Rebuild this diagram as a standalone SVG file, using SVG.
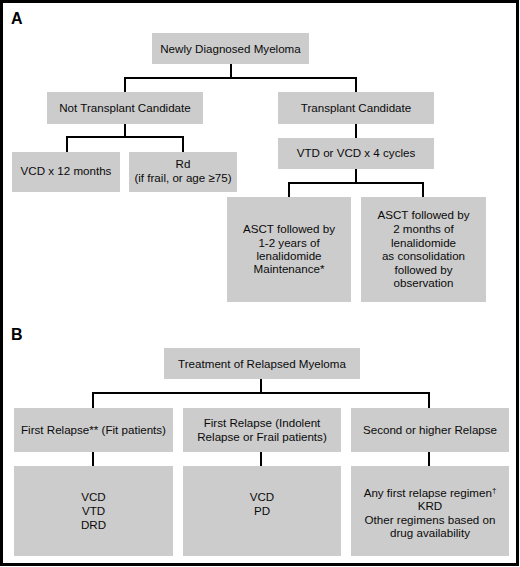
<svg xmlns="http://www.w3.org/2000/svg" width="520" height="567" viewBox="0 0 520 567">
<style>
.box{fill:#cccccc}
.t{font-family:"Liberation Sans",Arial,sans-serif;font-size:11.6px;fill:#0a0a0a;text-anchor:middle}
.lab{font-family:"Liberation Sans",Arial,sans-serif;font-size:16px;font-weight:bold;fill:#000}
.c{fill:none;stroke:#000;stroke-width:2}
</style>
<rect x="0" y="0" width="520" height="567" fill="#fff"/>
<rect x="1.5" y="1.5" width="516" height="563" fill="none" stroke="#000" stroke-width="3"/>
<text class="lab" x="11" y="24">A</text>
<text class="lab" x="11" y="340">B</text>
<g id="connectors">
<path class="c" d="M231,64V78M125,92V78H356V92"/>
<path class="c" d="M125,124V137M67,152V137H183V152"/>
<path class="c" d="M356,124V138"/>
<path class="c" d="M356,169V183M289,197V183H423V197"/>
<path class="c" d="M261,379V393M93,408V393H429V408"/>
<path class="c" d="M93,452V466M261,452V466M429,452V466"/>
</g>
<g id="n1"><rect class="box" x="152" y="33" width="157" height="31"/><text class="t" x="230.5" y="53">Newly Diagnosed Myeloma</text></g>
<g id="n2"><rect class="box" x="47" y="92" width="156" height="32"/><text class="t" x="125" y="112">Not Transplant Candidate</text></g>
<g id="n3"><rect class="box" x="278" y="92" width="156" height="32"/><text class="t" x="356" y="112">Transplant Candidate</text></g>
<g id="n4"><rect class="box" x="12" y="152" width="108" height="40"/><text class="t" x="66" y="175">VCD x 12 months</text></g>
<g id="n5"><rect class="box" x="129" y="152" width="108" height="40"/><text class="t" x="183" y="168">Rd</text><text class="t" x="183" y="182">(if frail, or age ≥75)</text></g>
<g id="n6"><rect class="box" x="278" y="138" width="156" height="31"/><text class="t" x="356" y="157">VTD or VCD x 4 cycles</text></g>
<g id="n7"><rect class="box" x="227" y="197" width="124" height="105"/><text class="t" x="289" y="233">ASCT followed by</text><text class="t" x="289" y="247">1-2 years of</text><text class="t" x="289" y="260">lenalidomide</text><text class="t" x="289" y="273">Maintenance*</text></g>
<g id="n8"><rect class="box" x="361" y="197" width="125" height="105"/><text class="t" x="423.5" y="219">ASCT followed by</text><text class="t" x="423.5" y="233">2 months of</text><text class="t" x="423.5" y="247">lenalidomide</text><text class="t" x="423.5" y="260">as consolidation</text><text class="t" x="423.5" y="274">followed by</text><text class="t" x="423.5" y="287">observation</text></g>
<g id="n9"><rect class="box" x="164" y="348" width="196" height="31"/><text class="t" x="262" y="368">Treatment of Relapsed Myeloma</text></g>
<g id="n10"><rect class="box" x="14" y="408" width="159" height="44"/><text class="t" x="93.5" y="434">First Relapse** (Fit patients)</text></g>
<g id="n11"><rect class="box" x="183" y="408" width="158" height="44"/><text class="t" x="262" y="427">First Relapse (Indolent</text><text class="t" x="262" y="441">Relapse or Frail patients)</text></g>
<g id="n12"><rect class="box" x="351" y="408" width="158" height="44"/><text class="t" x="430" y="434">Second or higher Relapse</text></g>
<g id="n13"><rect class="box" x="14" y="466" width="159" height="90"/><text class="t" x="93.5" y="501">VCD</text><text class="t" x="93.5" y="515">VTD</text><text class="t" x="93.5" y="529">DRD</text></g>
<g id="n14"><rect class="box" x="183" y="466" width="158" height="90"/><text class="t" x="262" y="501">VCD</text><text class="t" x="262" y="515">PD</text></g>
<g id="n15"><rect class="box" x="351" y="466" width="158" height="90"/><text class="t" x="430" y="497">Any first relapse regimen<tspan font-size="8" dy="-4">†</tspan></text><text class="t" x="430" y="510">KRD</text><text class="t" x="430" y="524">Other regimens based on</text><text class="t" x="430" y="537">drug availability</text></g>
</svg>
